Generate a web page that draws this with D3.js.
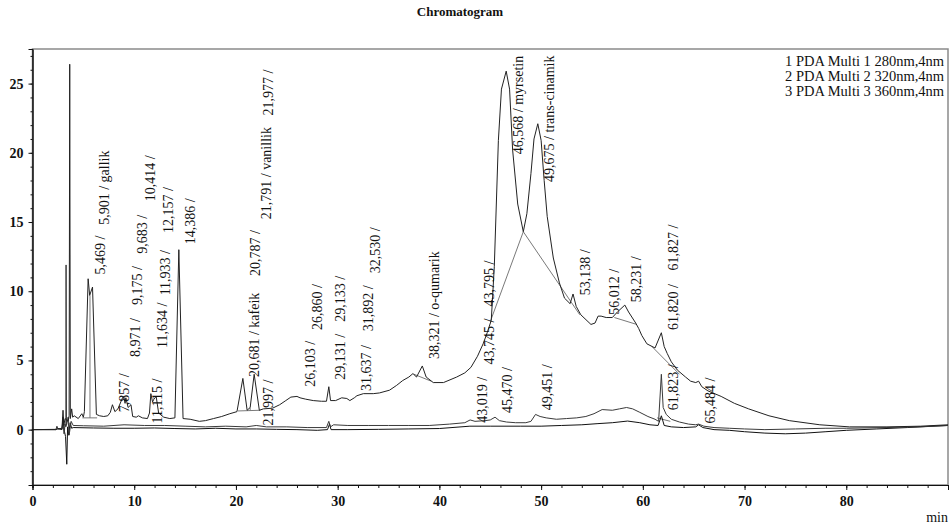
<!DOCTYPE html>
<html>
<head>
<meta charset="utf-8">
<script src="https://cdn.jsdelivr.net/npm/d3@7"></script>
<style>
  body { margin: 0; background: #fff; }
  svg text { font-family: "Liberation Serif", "Times New Roman", "DejaVu Serif", serif; fill: #111; }
</style>
</head>
<body>
<div id="chart"></div>
<script>
// channel 1 (280nm) - retention time (min), intensity
const pda280 = [
  [0,0],[2.3,0.02],[2.9,0.1],[3.0,1.4],[3.08,0.3],[3.2,0.8],[3.5,0.6],[3.6,1.0],[3.66,26.4],[3.72,0.8],
  [3.85,1.5],[3.95,0.9],[4.1,1.0],[4.5,0.8],[4.85,1.15],[5.0,0.9],[5.1,1.3],[5.469,10.9],[5.62,9.7],
  [5.901,10.3],[6.28,1.1],[6.6,1.0],[7.0,0.95],[7.4,1.0],[7.65,1.25],[7.857,1.8],[8.1,1.3],[8.4,1.5],
  [8.85,2.3],[8.971,2.4],[9.1,1.9],[9.175,2.3],[9.4,1.6],[9.683,1.8],[9.85,0.95],[10.2,0.9],[10.414,1.0],
  [10.8,0.85],[11.3,0.8],[11.5,1.2],[11.634,2.6],[11.8,2.0],[11.933,2.2],[12.157,2.4],[12.4,1.2],
  [12.9,0.9],[13.5,0.8],[14.0,0.85],[14.386,13.0],[14.8,0.8],[15.5,0.75],[16.4,0.6],[17.0,0.65],
  [17.8,0.8],[18.6,0.95],[19.4,1.15],[20.1,1.3],[20.681,3.7],[21.1,1.4],[21.4,1.6],[21.791,4.0],
  [22.3,1.4],[22.7,1.5],[23.6,1.55],[24.3,1.8],[24.9,2.1],[25.4,2.35],[26.0,2.4],[26.3,2.3],[26.86,2.2],
  [27.6,2.1],[28.4,2.05],[28.9,2.05],[29.131,3.1],[29.3,2.1],[29.8,2.1],[30.4,2.3],[30.9,2.25],[31.2,2.1],
  [31.637,2.3],[31.892,2.45],[32.53,2.6],[33.5,2.6],[34.1,2.65],[35.1,2.85],[35.8,3.2],[36.4,3.55],
  [37.0,3.8],[37.4,4.05],[37.75,3.8],[38.321,4.6],[38.7,3.8],[39.4,3.4],[40.4,3.4],[41.7,3.8],[42.5,4.1],
  [43.1,4.5],[43.745,5.3],[44.3,6.2],[44.7,7.0],[45.1,7.9],[45.4,11.8],[45.8,20.9],[46.1,24.6],
  [46.568,25.9],[46.9,24.6],[47.2,20.2],[47.7,16.3],[48.25,14.3],[48.6,15.6],[49.0,18.5],[49.3,21.0],
  [49.675,22.1],[50.0,20.9],[50.3,18.0],[50.6,15.4],[51.2,12.4],[51.8,10.6],[52.3,9.5],[52.85,9.1],
  [53.138,9.8],[53.45,8.9],[53.9,8.3],[54.9,7.6],[55.3,7.7],[55.6,8.2],[55.9,8.2],[56.4,8.1],[57.0,8.1],
  [57.5,8.5],[58.231,9.0],[58.6,8.5],[59.3,7.7],[59.6,7.3],[59.9,6.8],[60.4,6.2],[61.2,5.9],[61.82,7.0],
  [62.1,6.0],[62.4,5.5],[62.8,4.9],[63.4,4.3],[64.2,3.8],[64.7,3.5],[65.2,3.4],[65.484,3.5],[65.8,3.1],
  [66.4,2.8],[67.7,2.4],[69.0,1.9],[70.4,1.5],[72.4,1.0],[74.4,0.65],[77.4,0.35],[80.3,0.2],[84.0,0.2],
  [87.3,0.25],[90,0.35]
];

// channel 2 (320nm)
const pda320 = [
  [0,0],[2.3,0],[2.4,0.25],[2.5,0.05],[2.9,0.05],[3.0,0.6],[3.1,-0.3],[3.2,0.4],[3.28,0.2],[3.3,11.9],
  [3.34,0.3],[3.5,0.9],[3.6,-0.4],[3.8,0.6],[4.0,0.3],[5,0.28],[7,0.25],[9,0.35],[11,0.3],[13,0.3],
  [15,0.25],[17,0.2],[19,0.25],[21,0.2],[21.997,0.3],[23,0.2],[25,0.2],[27,0.15],[28.9,0.15],[29.13,0.6],
  [29.3,0.2],[29.6,0.35],[31,0.3],[33,0.3],[35,0.3],[37,0.3],[39,0.3],[41,0.4],[42.5,0.5],[43.019,0.7],
  [43.5,0.6],[44.5,0.65],[45.0,0.7],[45.47,0.9],[45.9,0.65],[46.6,0.55],[47.5,0.5],[48.5,0.5],[49.0,0.6],
  [49.451,1.1],[49.9,0.95],[50.5,0.85],[51.5,0.75],[52.5,0.8],[53.5,0.85],[54.4,0.95],[55.2,1.15],
  [56.0,1.45],[57.0,1.4],[57.7,1.5],[58.4,1.6],[59.0,1.5],[59.7,1.25],[60.5,0.95],[61.2,0.75],[61.55,0.6],
  [61.82,4.0],[62.0,1.6],[62.3,1.1],[62.8,0.75],[63.6,0.55],[64.5,0.4],[65.2,0.35],[65.484,0.4],[66.0,0.25],
  [67,0.15],[68.5,0.1],[70,0.05],[72,0.0],[75,0.05],[78,0.1],[80,0.1],[84,0.15],[87,0.2],[90,0.3]
];

// channel 3 (360nm)
const pda360 = [
  [0,0],[2.3,0],[2.45,0.1],[2.9,0.0],[3.0,0.9],[3.1,0.0],[3.25,-0.5],[3.37,-2.5],[3.45,0.2],[3.55,-0.4],
  [3.7,0.5],[3.85,0.1],[4.0,0.15],[6,0.12],[8,0.1],[10,0.1],[12,0.12],[14,0.08],[16,0.05],[18,0.1],
  [20,0.05],[22,0.05],[24,0.02],[26,0.0],[28,-0.05],[29.0,0.0],[29.2,0.4],[29.35,0.0],[31,0.0],[34,0.02],
  [37,0.05],[40,0.08],[43,0.25],[45,0.25],[48,0.25],[50,0.25],[52,0.3],[54,0.35],[55.5,0.43],[57,0.5],
  [58.5,0.62],[59.7,0.5],[60.7,0.35],[61.5,0.3],[61.823,1.0],[62.1,0.3],[62.8,0.2],[64,0.15],[65.2,0.2],
  [65.484,0.35],[65.9,0.15],[67,0.0],[68.5,-0.05],[70,-0.15],[72,-0.25],[74,-0.3],[76,-0.25],[78,-0.15],
  [80,-0.05],[83,0.05],[86,0.15],[90,0.3]
];

// integration baselines / drop lines [[t1, v1], [t2, v2]]
const baselines = [
  [[4.9,0.85],[6.35,0.85]], [[5.65,0.85],[5.65,9.7]],
  [[20.2,1.35],[22.4,1.4]], [[21.4,1.4],[21.4,1.6]],
  [[37.5,4.0],[39.2,3.5]],
  [[45.0,7.8],[48.25,14.3]], [[48.25,14.3],[53.8,8.3]],
  [[57.2,8.1],[59.4,7.6]],
  [[60.9,6.0],[63.6,4.0]],
  [[61.4,0.85],[62.7,0.6]]
];

// peak labels: retention time, text, level where the text starts
const peakLabels = [
  {t: 5.469, v: 11.2, text: "5,469 /"},
  {t: 5.901, v: 14.8, text: "5,901 / gallik"},
  {t: 7.857, v: 1.25, text: "7,857 /"},
  {t: 8.971, v: 5.25, text: "8,971 /"},
  {t: 9.175, v: 9.0, text: "9,175 /"},
  {t: 9.683, v: 12.7, text: "9,683 /"},
  {t: 10.414, v: 16.5, text: "10,414 /"},
  {t: 11.115, v: 0.45, text: "11,115 /"},
  {t: 11.634, v: 5.9, text: "11,634 /"},
  {t: 11.933, v: 9.7, text: "11,933 /"},
  {t: 12.157, v: 14.2, text: "12,157 /"},
  {t: 14.386, v: 13.4, text: "14,386 /"},
  {t: 20.681, v: 3.8, text: "20,681 / kafeik"},
  {t: 20.787, v: 11.1, text: "20,787 /"},
  {t: 21.791, v: 15.2, text: "21,791 / vanillik"},
  {t: 21.977, v: 22.7, text: "21,977 /"},
  {t: 21.997, v: 0.3, text: "21,997 /"},
  {t: 26.103, v: 3.1, text: "26,103 /"},
  {t: 26.860, v: 7.2, text: "26,860 /"},
  {t: 29.131, v: 3.6, text: "29,131 /"},
  {t: 29.133, v: 7.8, text: "29,133 /"},
  {t: 31.637, v: 2.8, text: "31,637 /"},
  {t: 31.892, v: 7.1, text: "31,892 /"},
  {t: 32.530, v: 11.3, text: "32,530 /"},
  {t: 38.321, v: 5.1, text: "38,321 / o-qumarik"},
  {t: 43.019, v: 0.5, text: "43,019 /"},
  {t: 43.745, v: 4.7, text: "43,745 /"},
  {t: 43.795, v: 8.9, text: "43,795 /"},
  {t: 45.470, v: 1.2, text: "45,470 /"},
  {t: 46.568, v: 19.9, text: "46,568 / myrsetin"},
  {t: 49.675, v: 17.9, text: "49,675 / trans-cinamik"},
  {t: 49.451, v: 1.4, text: "49,451 /"},
  {t: 53.138, v: 9.7, text: "53,138 /"},
  {t: 56.012, v: 8.3, text: "56,012 /"},
  {t: 58.231, v: 9.2, text: "58,231 /"},
  {t: 61.820, v: 7.2, text: "61,820 /"},
  {t: 61.827, v: 11.5, text: "61,827 /"},
  {t: 61.823, v: 1.4, text: "61,823 /"},
  {t: 65.484, v: 0.45, text: "65,484 /"}
];

const legendLines = ["1 PDA Multi 1 280nm,4nm", "2 PDA Multi 2 320nm,4nm", "3 PDA Multi 3 360nm,4nm"];
const xMajor = [0, 10, 20, 30, 40, 50, 60, 70, 80];
const yMajor = [0, 5, 10, 15, 20, 25];

const serif = "Liberation Serif, Times New Roman, serif";

// Dimensions
const W = 949, H = 531;
const margin = { top: 49, right: 1, bottom: 46, left: 32.5 };
const width = W - margin.left - margin.right;
const height = H - margin.top - margin.bottom;

const svg = d3.select("#chart")
  .append("svg")
  .attr("width", W)
  .attr("height", H)
  .attr("font-family", serif);

const g = svg.append("g")
  .attr("transform", `translate(${margin.left},${margin.top})`);

const x = d3.scaleLinear().domain([0, 90]).range([0, width]);
const y = d3.scaleLinear().domain([-4, 27.5]).range([height, 0]);

// title
svg.append("text")
  .attr("x", 460).attr("y", 16)
  .attr("text-anchor", "middle")
  .attr("font-size", 13).attr("font-weight", "bold")
  .text("Chromatogram");

// frame
g.append("rect")
  .attr("width", width).attr("height", height)
  .attr("fill", "none").attr("stroke", "#8a8a8a").attr("stroke-width", 1.5);

g.append("clipPath").attr("id", "plotClip")
  .append("rect").attr("width", width).attr("height", height);

const plot = g.append("g").attr("clip-path", "url(#plotClip)");

const line = d3.line().x(d => x(d[0])).y(d => y(d[1]));

// baselines first, traces on top
plot.selectAll(".base")
  .data(baselines)
  .enter()
  .append("path")
  .attr("class", "base")
  .attr("d", line)
  .attr("fill", "none")
  .attr("stroke", "#6a6a6a")
  .attr("stroke-width", 0.9);

const traces = [
  { data: pda360, color: "#111" },
  { data: pda320, color: "#3a3a3a" },
  { data: pda280, color: "#222" }
];

plot.selectAll(".trace")
  .data(traces)
  .enter()
  .append("path")
  .attr("class", "trace")
  .attr("d", d => line(d.data))
  .attr("fill", "none")
  .attr("stroke", d => d.color)
  .attr("stroke-width", 1)
  .attr("stroke-linejoin", "round");

// peak labels (rotated)
g.selectAll(".plabel")
  .data(peakLabels)
  .enter()
  .append("text")
  .attr("class", "plabel")
  .attr("transform", d => `translate(${x(d.t) + 12},${y(d.v)}) rotate(-90)`)
  .attr("dominant-baseline", "central")
  .attr("font-size", 14)
  .text(d => d.text);

// legend
g.selectAll(".leg")
  .data(legendLines)
  .enter()
  .append("text")
  .attr("class", "leg")
  .attr("x", 752.5)
  .attr("y", (d, i) => 16.5 + i * 15)
  .attr("font-size", 14.5)
  .text(d => d);

// axes
const xAxis = g.append("g")
  .attr("transform", `translate(0,${height})`)
  .call(d3.axisBottom(x).tickValues(xMajor).tickSize(5).tickPadding(6).tickFormat(d3.format("d")));

g.append("g")
  .attr("transform", `translate(0,${height})`)
  .call(d3.axisBottom(x).tickValues(d3.range(0, 91, 2)).tickSize(3).tickFormat(""));

const yAxis = g.append("g")
  .call(d3.axisLeft(y).tickValues(yMajor).tickSize(4).tickPadding(5).tickFormat(d3.format("d")));

g.append("g")
  .call(d3.axisLeft(y).tickValues(d3.range(-4, 28, 1)).tickSize(2).tickFormat(""));

g.selectAll(".domain").attr("stroke", "#111");
g.selectAll(".tick line").attr("stroke", "#111");
[xAxis, yAxis].forEach(a => {
  a.attr("font-family", serif);
  a.selectAll("text")
    .attr("font-size", 14)
    .attr("font-weight", "bold")
    .attr("fill", "#111");
});

// unit
svg.append("text")
  .attr("x", 948).attr("y", 522)
  .attr("text-anchor", "end")
  .attr("font-size", 14)
  .text("min");
</script>
</body>
</html>
